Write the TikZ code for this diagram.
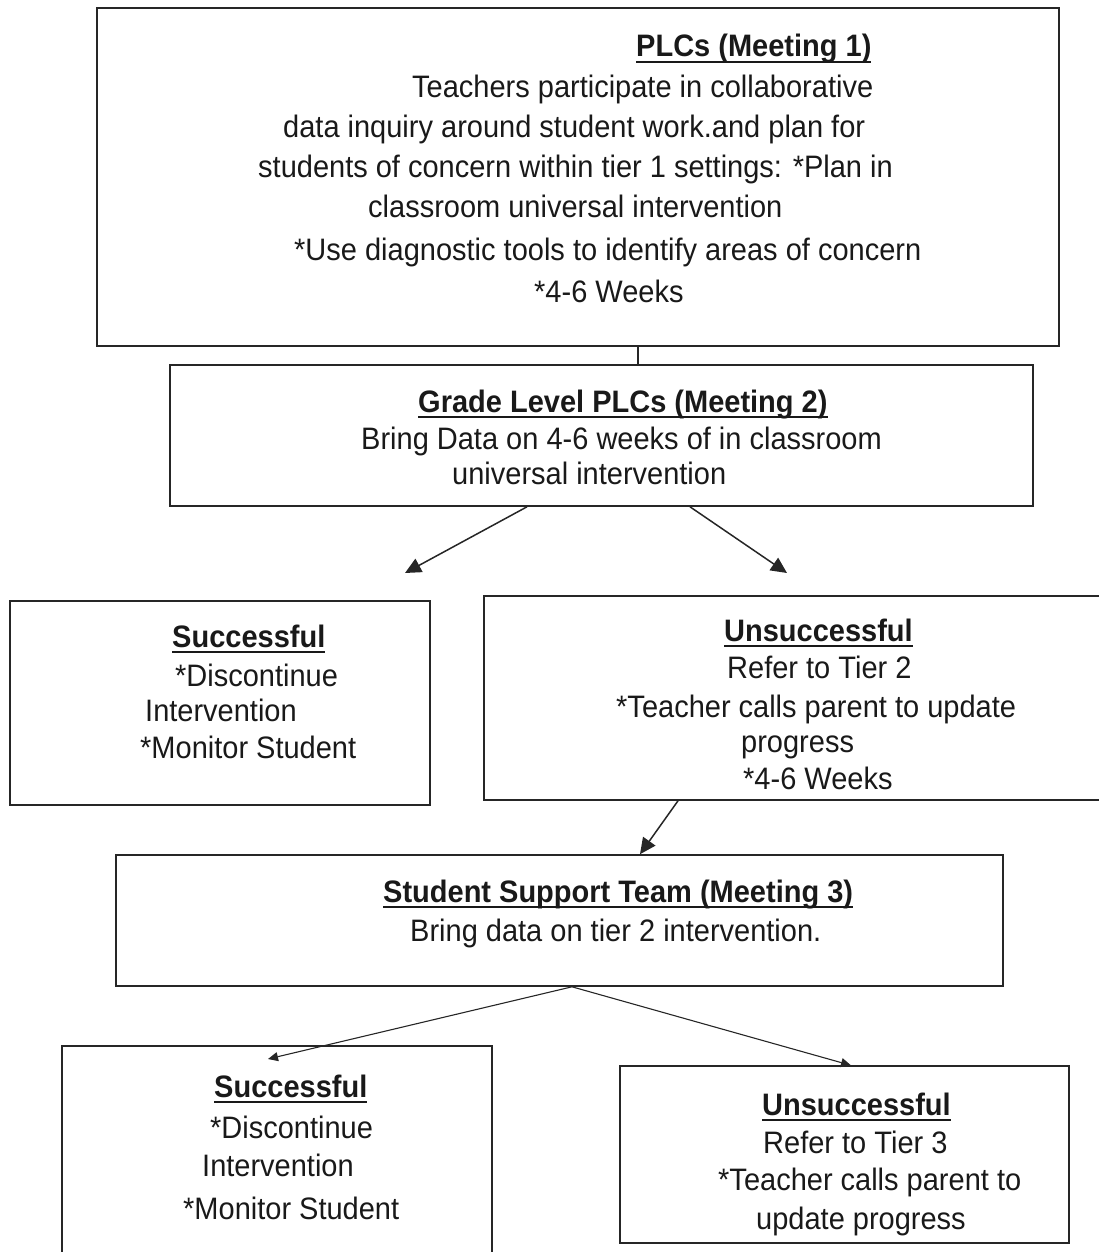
\documentclass[tikz,border=0pt]{standalone}
\usepackage{fontspec}
\setmainfont{Liberation Sans}
\usetikzlibrary{arrows.meta}
% bold heading with a heavy underline just below the baseline
\newsavebox{\headbox}
\newcommand{\headline}[1]{\sbox{\headbox}{\textbf{#1}}\rlap{\usebox{\headbox}}\rule[-5.5pt]{\wd\headbox}{2.2pt}}
\begin{document}
\begin{tikzpicture}[x=1pt,y=-1pt,
  box/.style={draw=black!85, line width=1.6pt, rectangle, inner sep=0pt},
  txt/.style={inner sep=0pt, anchor=base west, font=\fontsize{29}{34}\selectfont, text=black!90,
              transform shape, yscale=1.07},
  link/.style={draw=black!85, line width=1.5pt},
  bigtip/.style={link, -{Triangle[length=16pt,width=15pt]}},
  smalltip/.style={link, line width=1.1pt, -{Triangle[length=10pt,width=9pt]}}]
\useasboundingbox (0,0) rectangle (1099,1252);
\begin{scope}
\clip (0,0) rectangle (1099,1252);
% boxes
\node[box, minimum width=962pt, minimum height=338pt] (m1) at (578,177) {};
\node[box, minimum width=863pt, minimum height=141pt] (m2) at (601.5,435.5) {};
\node[box, minimum width=420pt, minimum height=204pt] (s1) at (220,703) {};
\node[box, minimum width=622pt, minimum height=204pt] (u1) at (795,698) {};
\node[box, minimum width=887pt, minimum height=131pt] (m3) at (559.5,920.5) {};
\node[box, line width=1.3pt, minimum width=430pt, minimum height=216pt] (s2) at (277,1154) {};
\node[box, line width=1.3pt, minimum width=449pt, minimum height=177pt] (u2) at (844.5,1154.5) {};
\end{scope}

% meeting 1
\node[txt] (m1a) at (636,57) {\headline{PLCs (Meeting 1)}};
\node[txt] (m1b) at (412,98) {Teachers participate in collaborative};
\node[txt] (m1c) at (283,138) {data inquiry around student work.and plan for};
\node[txt] (m1d) at (258,178) {students of concern within tier 1 settings: *Plan in};
\node[txt] (m1e) at (368,218) {classroom universal intervention};
\node[txt] (m1f) at (294,260) {*Use diagnostic tools to identify areas of concern};
\node[txt] (m1g) at (534,302) {*4-6 Weeks};

% meeting 2
\node[txt] (m2a) at (418,412) {\headline{Grade Level PLCs (Meeting 2)}};
\node[txt] (m2b) at (361,449) {Bring Data on 4-6 weeks of in classroom};
\node[txt] (m2c) at (452,484) {universal intervention};

% first outcome pair
\node[txt] (s1a) at (172,647) {\headline{Successful}};
\node[txt] (s1b) at (175,686) {*Discontinue};
\node[txt] (s1c) at (145,721) {Intervention};
\node[txt] (s1d) at (140,758) {*Monitor Student};

\node[txt] (u1a) at (724,641) {\headline{Unsuccessful}};
\node[txt] (u1b) at (727,678) {Refer to Tier 2};
\node[txt] (u1c) at (616,717) {*Teacher calls parent to update};
\node[txt] (u1d) at (741,752) {progress};
\node[txt] (u1e) at (743,789) {*4-6 Weeks};

% meeting 3
\node[txt] (m3a) at (383,902) {\headline{Student Support Team (Meeting 3)}};
\node[txt] (m3b) at (410,941) {Bring data on tier 2 intervention.};

% second outcome pair
\node[txt] (s2a) at (214,1097) {\headline{Successful}};
\node[txt] (s2b) at (210,1138) {*Discontinue};
\node[txt] (s2c) at (202,1176) {Intervention};
\node[txt] (s2d) at (183,1219) {*Monitor Student};

\node[txt] (u2a) at (762,1115) {\headline{Unsuccessful}};
\node[txt] (u2b) at (763,1153) {Refer to Tier 3};
\node[txt] (u2c) at (718,1190) {*Teacher calls parent to};
\node[txt] (u2d) at (756,1229) {update progress};

% connectors
\coordinate (e1) at (405,573);
\coordinate (e2) at (787,573);
\coordinate (e4) at (268,1059);
\draw[link] ([xshift=60pt]m1.south) -- ([xshift=36.5pt]m2.north);
\draw[bigtip] ([xshift=-74.5pt]m2.south) -- (e1);
\draw[bigtip] ([xshift=88.5pt]m2.south) -- (e2);
\draw[bigtip] ([xshift=-117pt]u1.south) -- ([xshift=80.5pt]m3.north);
\draw[smalltip] ([xshift=12.5pt]m3.south) -- (e4);
\draw[smalltip] ([xshift=12.5pt]m3.south) -- ([xshift=6.5pt]u2.north);
\end{tikzpicture}
\end{document}
